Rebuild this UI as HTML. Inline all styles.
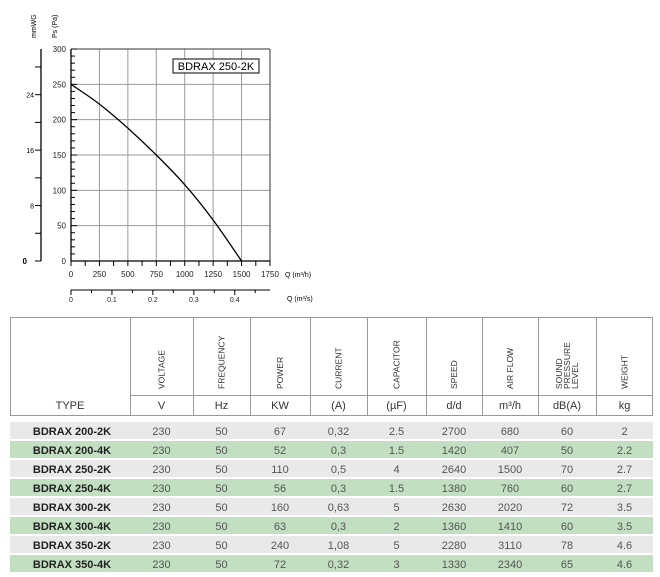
<!DOCTYPE html>
<html><head><meta charset="utf-8"><style>
body{margin:0;width:660px;height:577px;background:#fff;font-family:"Liberation Sans",sans-serif;overflow:hidden;position:relative}
svg{position:absolute;left:0;top:0}
</style></head><body>
<svg id="chart" width="660" height="310" viewBox="0 0 660 310"></svg>
<svg id="tbl" width="660" height="577" viewBox="0 0 660 577" style="pointer-events:none"></svg>
<script>
const qTicks=[0,250,500,750,1000,1250,1500,1750];
const psTicks=[0,50,100,150,200,250,300];
const mmTicks=[0,8,16,24];
const qsTicks=[0,0.1,0.2,0.3,0.4];
const curveQ=[0,250,500,750,1000,1250,1500];
const curvePs=[250,222,188,150,108,58,0];

const headers=["VOLTAGE","FREQUENCY","POWER","CURRENT","CAPACITOR","SPEED","AIR FLOW","SOUND|PRESSURE|LEVEL","WEIGHT"];
const units=["V","Hz","KW","(A)","(µF)","d/d","m³/h","dB(A)","kg"];
const types=["BDRAX 200-2K","BDRAX 200-4K","BDRAX 250-2K","BDRAX 250-4K","BDRAX 300-2K","BDRAX 300-4K","BDRAX 350-2K","BDRAX 350-4K"];
const voltage=["230","230","230","230","230","230","230","230"];
const freq=["50","50","50","50","50","50","50","50"];
const power=["67","52","110","56","160","63","240","72"];
const current=["0,32","0,3","0,5","0,3","0,63","0,3","1,08","0,32"];
const capacitor=["2.5","1.5","4","1.5","5","2","5","3"];
const speed=["2700","1420","2640","1380","2630","1360","2280","1330"];
const airflow=["680","407","1500","760","2020","1410","3110","2340"];
const sound=["60","50","70","60","72","60","78","65"];
const weight=["2","2.2","2.7","2.7","3.5","3.5","4.6","4.6"];

const NS="http://www.w3.org/2000/svg";
function mk(p,t,a,txt){const e=document.createElementNS(NS,t);for(const k in a)e.setAttribute(k,a[k]);if(txt!==undefined)e.textContent=txt;p.appendChild(e);return e;}
const c=document.getElementById('chart');
const X0=71,X1=270,Y0=261,Y1=49;
const xs=q=>X0+(q/1750)*(X1-X0);
const ys=p=>Y0-(p/300)*(Y0-Y1);
const ym=m=>ys(m*9.80665);
const xq=v=>xs(v*3600);
qTicks.forEach(q=>{if(q>0){let l=mk(c,'line',{x1:xs(q),x2:xs(q),y1:Y1,y2:Y0,stroke:'#9a9a9a','stroke-width':1});

}});
psTicks.forEach(p=>{if(p>0){let l=mk(c,'line',{x1:X0,x2:X1,y1:ys(p),y2:ys(p),stroke:'#9a9a9a','stroke-width':1});

}});
mk(c,'line',{x1:X1,x2:X1,y1:Y1,y2:Y0,stroke:'#333'});
mk(c,'line',{x1:X0,x2:X1,y1:Y1,y2:Y1,stroke:'#333'});
mk(c,'line',{x1:X0,x2:X0,y1:Y1,y2:Y0,stroke:'#000','stroke-width':1.3,});
mk(c,'line',{x1:X0,x2:X1,y1:Y0,y2:Y0,stroke:'#000','stroke-width':1.3,});
for(let p=0;p<=300;p+=10)mk(c,'line',{x1:X0,x2:X0+(p%50==0?6:4),y1:ys(p),y2:ys(p),stroke:'#000'});
psTicks.forEach(p=>{let t=mk(c,'text',{x:X0-5,y:ys(p)+3,'font-size':8,'text-anchor':'end',fill:'#222'},p);

});
for(let q=0;q<=1750;q+=125)mk(c,'line',{x1:xs(q),x2:xs(q),y1:Y0,y2:Y0+5,stroke:'#000'});
qTicks.forEach(q=>{let t=mk(c,'text',{x:xs(q),y:Y0+16,'font-size':8,'text-anchor':'middle',fill:'#222'},q);

});
mk(c,'text',{x:285,y:Y0+16,'font-size':7,},'Q (m³/h)');
mk(c,'line',{x1:41,x2:41,y1:Y1,y2:Y0,stroke:'#000','stroke-width':1.3,});
for(let m=0;m<=30;m+=4)mk(c,'line',{x1:35,x2:41,y1:ym(m),y2:ym(m),stroke:'#000'});
mmTicks.forEach(m=>{let t=mk(c,'text',{x:m==0?27:34,y:ym(m)+3,'font-size':m==0?8:7,'font-weight':m==0?'bold':'normal','text-anchor':'end'},m);

});
mk(c,'text',{x:0,y:0,'font-size':7,transform:'translate(36,38) rotate(-90)',},'mmWG');
mk(c,'text',{x:0,y:0,'font-size':7,transform:'translate(57,38) rotate(-90)',},'Ps (Pa)');
mk(c,'line',{x1:X0,x2:X1,y1:290,y2:290,stroke:'#000',});
for(let i=0;i<=9;i++){const v=i*0.05;mk(c,'line',{x1:xq(v),x2:xq(v),y1:290,y2:i%2?293:295,stroke:'#000'});}
qsTicks.forEach(v=>{let t=mk(c,'text',{x:xq(v),y:302,'font-size':7,'text-anchor':'middle',fill:'#222'},v);

});
mk(c,'text',{x:287,y:301,'font-size':7,},'Q (m³/s)');
// smooth curve (Catmull-Rom)
const P=curveQ.map((q,i)=>[xs(q),ys(curvePs[i])]);
let d='M'+P[0][0].toFixed(1)+' '+P[0][1].toFixed(1);
for(let i=0;i<P.length-1;i++){const p0=P[i-1]||P[i],p1=P[i],p2=P[i+1],p3=P[i+2]||P[i+1];
const c1=[p1[0]+(p2[0]-p0[0])/6,p1[1]+(p2[1]-p0[1])/6],c2=[p2[0]-(p3[0]-p1[0])/6,p2[1]-(p3[1]-p1[1])/6];
d+=` C${c1[0].toFixed(1)} ${c1[1].toFixed(1)} ${c2[0].toFixed(1)} ${c2[1].toFixed(1)} ${p2[0].toFixed(1)} ${p2[1].toFixed(1)}`;}
mk(c,'path',{d:d,fill:'none',stroke:'#000','stroke-width':1.3,});
mk(c,'rect',{x:173,y:59,width:86,height:14,fill:'#fff',stroke:'#000',});
mk(c,'text',{x:216,y:70,'font-size':11,'text-anchor':'middle',},'BDRAX 250-2K');

const t=document.getElementById('tbl');
const cols=[10,130,193,250,310,367,426,482,538,596,653];
mk(t,'rect',{x:10.5,y:317.5,width:642,height:98,fill:'none',stroke:'#999',});
for(let i=1;i<10;i++)mk(t,'line',{x1:cols[i]+.5,x2:cols[i]+.5,y1:317,y2:416,stroke:'#999'});
mk(t,'line',{x1:130,x2:653,y1:395.5,y2:395.5,stroke:'#999'});
let th=mk(t,'text',{x:70,y:409,'font-size':11,'text-anchor':'middle',fill:'#333'},'TYPE');


headers.forEach((h,i)=>{const cx=(cols[i+1]+cols[i+2])/2;const parts=h.split('|');
parts.forEach((p,j)=>{let e=mk(t,'text',{x:0,y:0,'font-size':8.5,fill:'#333',transform:`translate(${cx+3+(j-(parts.length-1)/2)*8},389) rotate(-90)`},p);

});
let u=mk(t,'text',{x:cx,y:409,'font-size':11,'text-anchor':'middle',fill:'#333'},units[i]);

});
const cols2=[voltage,freq,power,current,capacitor,speed,airflow,sound,weight];
types.forEach((ty,r)=>{const y=422+r*19;
let rr=mk(t,'rect',{x:10,y:y,width:643,height:17,fill:r%2?'#c2dfc1':'#e9e9e9'});


let tt=mk(t,'text',{x:72,y:y+13,'font-size':11,'font-weight':'bold','text-anchor':'middle',fill:'#222'},ty);


cols2.forEach((arr,i)=>{const cx=(cols[i+1]+cols[i+2])/2;
let v=mk(t,'text',{x:cx,y:y+13,'font-size':11,'text-anchor':'middle',fill:'#555'},arr[r]);

});});
</script>
</body></html>
